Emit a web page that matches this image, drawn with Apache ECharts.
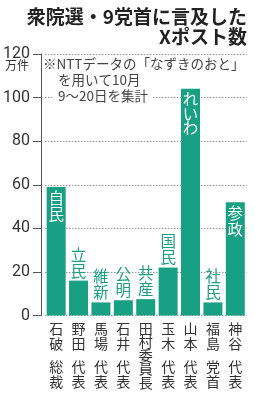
<!DOCTYPE html>
<html><head><meta charset="utf-8">
<script src="https://cdn.jsdelivr.net/npm/echarts@6/dist/echarts.min.js"></script>
<style>html,body{margin:0;padding:0;background:#fff}#c{width:255px;height:400px}</style>
</head><body><div id="c"></div>
<script>
const parties = ['自民','立民','維新','公明','共産','国民','れいわ','社民','参政'];
const leaders = ['石破','野田','馬場','石井','田村','玉木','山本','福島','神谷'];
const titles = ['総裁','代表','代表','代表','委員長','代表','代表','党首','代表'];
const values = [59, 16, 6, 7, 7.5, 22, 104, 6, 52];
const yTicks = [0, 20, 40, 60, 80, 100, 120];
const unitLabel = '万件';
const chartTitle = '衆院選・9党首に言及した\nXポスト数';
const noteLines = ['※NTTデータの「なずきのおと」', 'を用いて10月', '9～20日を集計'];

const GREEN = '#17a083';
const JP = '"Noto Sans CJK JP", sans-serif';
const chart = echarts.init(document.getElementById('c'), null, {renderer: 'canvas'});

const cats = leaders.map((n, i) => n + '|' + titles[i]);

function xLabel(v) {
  const i = cats.indexOf(v);
  const n = leaders[i], t = titles[i];
  if (t.length > 2) {
    return (n + t).split('').map(c => '{m|' + c + '}').join('\n');
  }
  return n.split('').map(c => '{n|' + c + '}').join('\n') + '\n{g| }\n' +
         t.split('').map(c => '{n|' + c + '}').join('\n');
}

const data = values.map((v, i) => {
  const inside = v > 30;
  return {
    value: v,
    label: {
      show: true,
      position: inside ? 'insideTop' : 'top',
      distance: inside ? 3 : 2,
      color: inside ? '#fff' : GREEN,
      formatter: parties[i].split('').join('\n'),
      fontSize: 15.5,
      lineHeight: inside && parties[i].length > 2 ? 14.5 : 16,
      fontFamily: JP,
      fontWeight: 'normal'
    }
  };
});

chart.setOption({
  animation: false,
  grid: {left: 44, right: 8.5, top: 54, bottom: 84.5, containLabel: false},
  xAxis: {
    type: 'category',
    data: cats,
    axisLine: {show: false},
    axisTick: {show: false},
    axisLabel: {
      interval: 0,
      margin: 6,
      formatter: xLabel,
      color: '#333',
      rich: {
        n: {fontSize: 14, lineHeight: 14.5, fontFamily: JP, color: '#333'},
        m: {fontSize: 14, lineHeight: 13.5, fontFamily: JP, color: '#333'},
        g: {fontSize: 8, lineHeight: 9}
      }
    }
  },
  yAxis: {
    type: 'value',
    min: yTicks[0],
    max: yTicks[yTicks.length - 1],
    interval: yTicks[1] - yTicks[0],
    offset: 4,
    axisLine: {show: true, lineStyle: {color: '#555', width: 1}},
    axisTick: {show: true, length: 8, lineStyle: {color: '#555'}},
    axisLabel: {margin: 11, fontSize: 16, color: '#333', fontFamily: 'Roboto, sans-serif'},
    splitLine: {show: true, lineStyle: {color: '#999', type: [1.5, 1.5], width: 1}}
  },
  series: [{
    type: 'bar',
    data: data,
    barWidth: 19,
    itemStyle: {color: GREEN}
  }],
  graphic: [
    {type: 'text', z: 100, style: {text: chartTitle, x: 247, y: 7, align: 'right', verticalAlign: 'top',
      font: 'bold 19px ' + JP, fill: '#222', lineHeight: 20}},
    {type: 'text', z: 100, style: {text: unitLabel, x: 29, y: 59, align: 'right', verticalAlign: 'top',
      font: '12px ' + JP, fill: '#333'}},
    {type: 'text', z: 100, style: {text: noteLines[0], x: 43, y: 57, align: 'left', verticalAlign: 'top',
      font: '13.5px ' + JP, fill: '#444', backgroundColor: '#fff'}},
    {type: 'text', z: 100, style: {text: noteLines[1], x: 58, y: 73, align: 'left', verticalAlign: 'top',
      font: '13.5px ' + JP, fill: '#444', backgroundColor: '#fff'}},
    {type: 'text', z: 100, style: {text: noteLines[2], x: 54, y: 89, align: 'left', verticalAlign: 'top',
      font: '13.5px ' + JP, fill: '#444', backgroundColor: '#fff', padding: [0, 4, 0, 4]}}
  ]
});
</script></body></html>
